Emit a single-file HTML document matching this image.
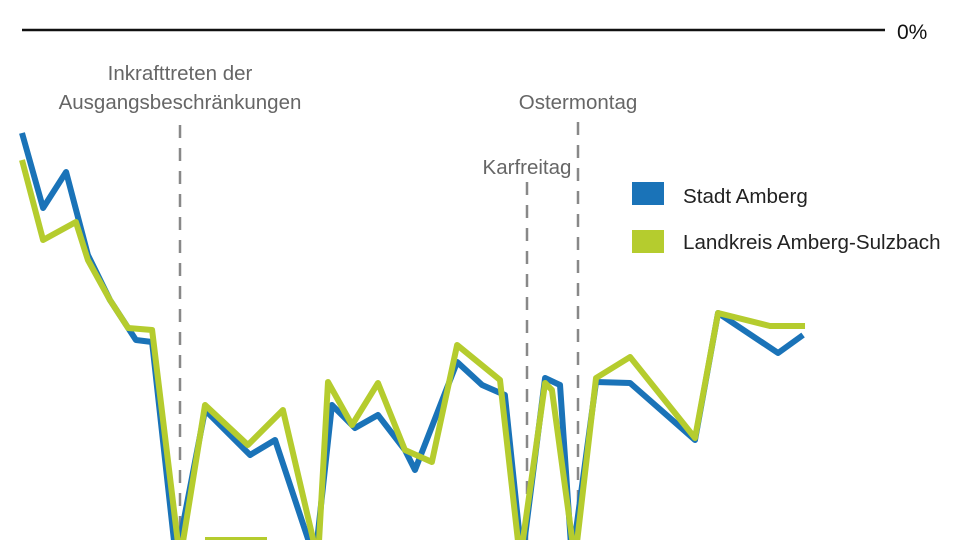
<!DOCTYPE html>
<html><head><meta charset="utf-8"><style>
body{margin:0;background:#fff;}
svg{display:block;font-family:"Liberation Sans",sans-serif;}
</style></head><body>
<svg id="c" width="960" height="540" viewBox="0 0 960 540">
<line x1="22" y1="30" x2="885" y2="30" stroke="#111" stroke-width="2.5"/>
<text x="897" y="39" font-size="21" fill="#111">0%</text>
<line x1="180" y1="125" x2="180" y2="540" stroke="#888" stroke-width="2.5" stroke-dasharray="13,10"/>
<line x1="527" y1="182" x2="527" y2="540" stroke="#888" stroke-width="2.5" stroke-dasharray="13,10"/>
<line x1="578" y1="122" x2="578" y2="540" stroke="#888" stroke-width="2.5" stroke-dasharray="13,10"/>
<text x="180" y="80" font-size="20.5" fill="#666" text-anchor="middle">Inkrafttreten der</text>
<text x="180" y="109" font-size="20.5" fill="#666" text-anchor="middle">Ausgangsbeschränkungen</text>
<text x="578" y="109" font-size="20.5" fill="#666" text-anchor="middle">Ostermontag</text>
<text x="527" y="174" font-size="20.5" fill="#666" text-anchor="middle">Karfreitag</text>
<rect x="632" y="182" width="32" height="23" fill="#1a73b8"/>
<text x="683" y="203" font-size="20.6" fill="#222">Stadt Amberg</text>
<rect x="632" y="230" width="32" height="23" fill="#b5cc2e"/>
<text x="683" y="249" font-size="20.6" fill="#222">Landkreis Amberg-Sulzbach</text>
<rect x="205" y="537" width="62" height="3" fill="#b5cc2e"/>
<g id="series"></g>
</svg>
<script>
const blueDays=[0,0.86,1.8,2.69,3.59,4.65,5.31,6.29,7.47,9.31,10.33,11.96,12.65,13.59,14.53,15.63,16.04,17.76,18.78,19.71,20.41,21.35,21.96,22.45,23.43,24.82,27.47,28.41,30.86,31.88];
const blueValues=[-20.6,-35.6,-28.4,-45,-54,-62,-62.4,-106,-76,-85,-82,-106,-75,-79.6,-77,-84,-88,-66.4,-71,-73,-106,-69.6,-71,-106,-70.4,-70.6,-82,-56.6,-64.6,-61];
const greenDays=[0,0.86,2.2,2.69,3.59,4.33,5.31,6.45,7.47,9.22,10.65,12.08,12.49,13.47,14.53,15.63,16.73,17.76,19.51,20.33,21.35,21.63,22.57,23.43,24.82,27.47,28.41,30.53,31.96];
const greenValues=[-26,-42,-38.4,-46,-54,-59.6,-60,-106,-75,-83,-76,-106,-70.4,-79,-70.6,-84,-86.4,-63,-70,-106,-70.6,-72,-106,-69.6,-65.4,-81.6,-56.6,-59.2,-59.2];
function xS(d){return 22+d*24.5;}
function yS(v){return 30-v*5;}
const g=document.getElementById('series');
function draw(days,vals,color,name){
  const p=document.createElementNS('http://www.w3.org/2000/svg','polyline');
  p.setAttribute('points',days.map((d,i)=>xS(d)+','+yS(vals[i])).join(' '));
  p.setAttribute('fill','none');p.setAttribute('stroke',color);
  p.setAttribute('stroke-width','6');p.setAttribute('stroke-linejoin','round');
  
  
  g.appendChild(p);
}
draw(blueDays,blueValues,'#1a73b8','series-stadt-amberg');
draw(greenDays,greenValues,'#b5cc2e','series-landkreis');
</script>
</body></html>
